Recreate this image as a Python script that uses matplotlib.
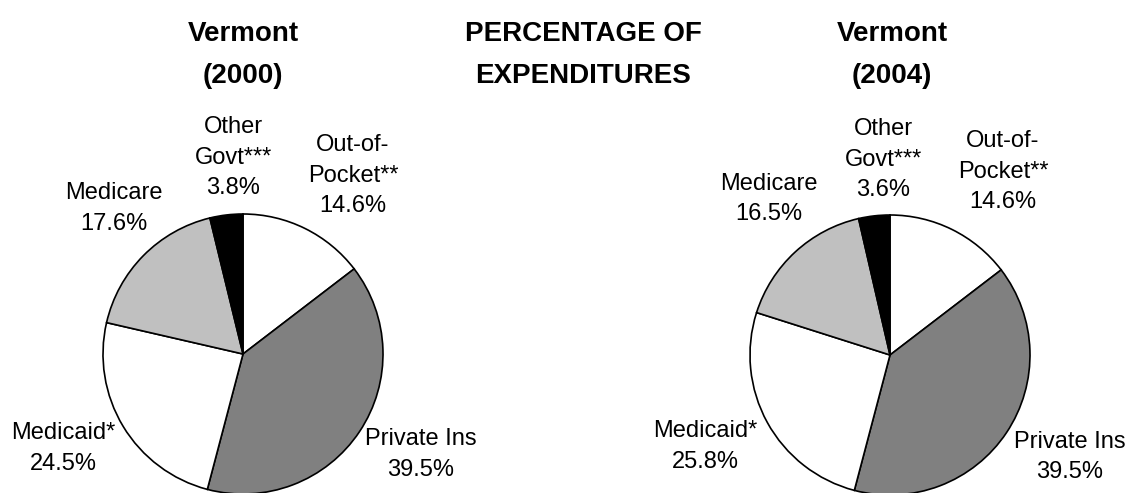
import matplotlib
matplotlib.use("Agg")
import matplotlib.pyplot as plt

plt.rcParams["font.family"] = ["Liberation Sans", "DejaVu Sans"]

W, H = 1125, 493

# spending categories, clockwise from 12 o'clock
categories = ["Out-of-\nPocket**", "Private Ins", "Medicaid*", "Medicare", "Other\nGovt***"]
share_2000 = [14.6, 39.5, 24.5, 17.6, 3.8]
share_2004 = [14.6, 39.5, 25.8, 16.5, 3.6]
slice_colors = ["white", "#808080", "white", "#c0c0c0", "black"]

# pixel layout: pie centre, radius, and label anchors (x, first baseline)
pies = [
    dict(values=share_2000, center=(243, 354), radius=140,
         labels=[(353, 151), (421, 445), (63, 439), (114, 199), (233, 133)]),
    dict(values=share_2004, center=(890, 355), radius=140,
         labels=[(1003, 147), (1070, 448), (705, 437), (769, 190), (883, 135)]),
]
titles = [
    (243, ["Vermont", "(2000)"]),
    (583, ["PERCENTAGE OF", "EXPENDITURES"]),
    (892, ["Vermont", "(2004)"]),
]

fig = plt.figure(figsize=(W / 100, H / 100), dpi=100)
ax = fig.add_axes([0, 0, 1, 1])


def put_lines(x, y0, lines, step, **kw):
    for i, line in enumerate(lines):
        ax.text(x, H - (y0 + i * step), line, ha="center", va="baseline", **kw)


for p in pies:
    cx, cy = p["center"]
    ax.pie(p["values"], colors=slice_colors, startangle=90, counterclock=False,
           center=(cx, H - cy), radius=p["radius"], frame=True,
           wedgeprops=dict(edgecolor="black", linewidth=1.2))
    for name, v, (lx, ly) in zip(categories, p["values"], p["labels"]):
        lines = name.split("\n") + [f"{v:.1f}%"]
        put_lines(lx, ly, lines, 30.5, fontsize=17, color="black")

for x, lines in titles:
    put_lines(x, 41, lines, 42, fontsize=20, fontweight="bold", color="black")

ax.set_xlim(0, W)
ax.set_ylim(0, H)
ax.set_aspect("auto")
ax.axis("off")

fig.savefig("out.png", dpi=100, facecolor="white")
